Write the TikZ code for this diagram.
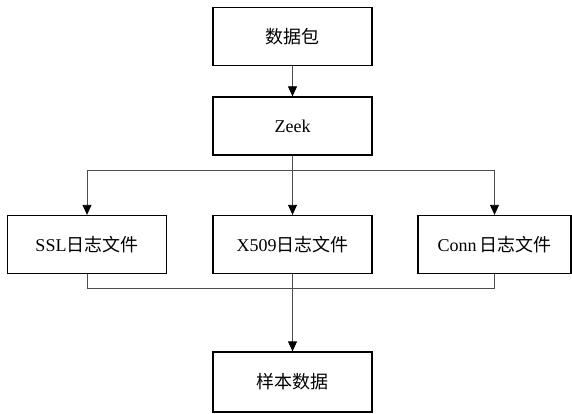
\documentclass[tikz,border=0pt]{standalone}
\usepackage{fontspec}
\setmainfont{Liberation Serif}
\newfontfamily\cjk{Noto Sans CJK SC}
\usepackage{tikz}
\usetikzlibrary{arrows.meta}
\tikzstyle{every node}=[font=\fontsize{18}{21}\selectfont]
\tikzstyle{box}=[rectangle, draw, line width=1.3pt, inner sep=0pt,
                 minimum height=58pt, minimum width=159pt]
\tikzstyle{link}=[line width=0.8pt, draw=black!70]
\tikzstyle{arrow}=[link, -{Triangle[length=10pt,width=9pt,color=black]}]

\begin{document}
\begin{tikzpicture}[x=1pt, y=-1pt]
      \useasboundingbox (0,0) rectangle (572,414);
      \node[box] (packet) at (292.5,36.5) {{\cjk 数据包}};
      \node[box] (zeek) at (292.5,126) {Zeek};
      \node[box] (ssl) at (87,244.5) {SSL{\cjk 日志文件}};
      \node[box] (xcert) at (292.5,244.5) {X509{\cjk 日志文件}};
      \node[box, minimum width=153pt] (conn) at (494.5,244.5) {Conn\,{\cjk 日志文件}};
      \node[box, minimum height=60pt] (sample) at (292.5,382) {{\cjk 样本数据}};
      \coordinate (split) at (292.5,170);
      \coordinate (merge) at (292.5,288);
	\draw[arrow] (packet)--(zeek);
	\draw[link] (zeek)--(split);
	\draw[arrow] (split)-|(ssl);
	\draw[arrow] (split)--(xcert);
	\draw[arrow] (split)-|(conn);
	\draw[link] (ssl)|-(merge);
	\draw[link] (conn)|-(merge);
	\draw[link] (xcert)--(merge);
	\draw[arrow] (merge)--(sample);
      \end{tikzpicture}
\end{document}
